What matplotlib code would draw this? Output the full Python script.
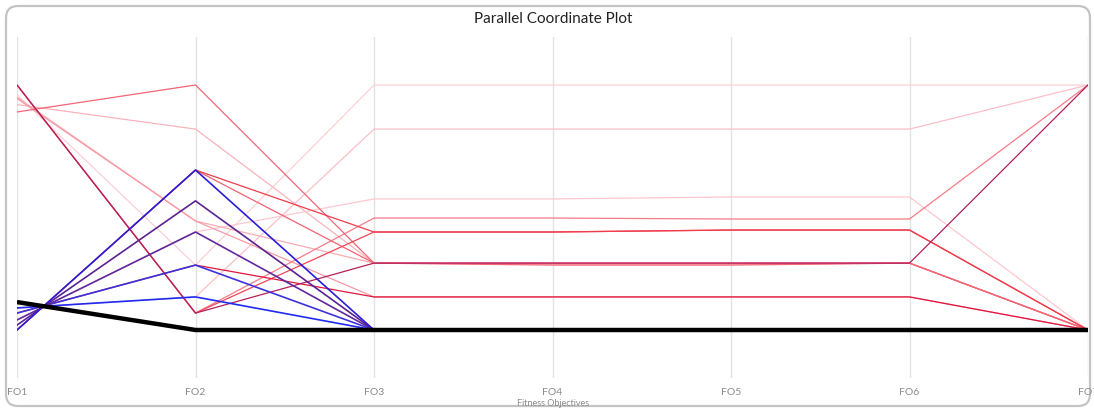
import matplotlib
matplotlib.use("Agg")
import matplotlib.pyplot as plt
from matplotlib.patches import FancyBboxPatch

# ---- data -------------------------------------------------------------
objectives = ["FO1", "FO2", "FO3", "FO4", "FO5", "FO6", "FO7"]

# light / red solutions (normalised fitness, 0..100)
s01 = [96.0, 26.5, 100.0, 100.0, 100.0, 100.0, 100.0]
s02 = [9.0, 13.5, 82.0, 82.0, 82.0, 82.0, 100.0]
s03 = [92.0, 82.0, 27.3, 26.8, 26.8, 27.3, 0.0]
s04 = [4.1, 40.0, 53.5, 53.5, 54.3, 54.3, 0.0]
s05 = [95.0, 44.5, 27.3, 27.3, 27.3, 27.3, 0.0]
s06 = [94.5, 44.5, 13.5, 13.5, 13.5, 13.5, 0.0]
s07 = [100.0, 6.9, 45.7, 45.7, 45.3, 45.3, 100.0]
s08 = [89.0, 100.0, 27.3, 26.5, 26.5, 27.3, 0.0]
s09 = [0.0, 65.3, 27.3, 27.3, 27.3, 27.3, 0.0]
s10 = [100.0, 6.9, 40.0, 40.0, 40.8, 40.8, 0.0]
s11 = [0.0, 65.3, 40.0, 40.0, 40.8, 40.8, 0.0]
s12 = [6.9, 26.5, 13.5, 13.5, 13.5, 13.5, 0.0]
s13 = [100.0, 6.9, 27.3, 27.3, 27.3, 27.3, 100.0]
# blue / purple solutions
s14 = [0.0, 65.3, 0.0, 0.0, 0.0, 0.0, 0.0]
s15 = [2.0, 52.7, 0.0, 0.0, 0.0, 0.0, 0.0]
s16 = [4.1, 40.0, 0.0, 0.0, 0.0, 0.0, 0.0]
s17 = [6.9, 26.5, 0.0, 0.0, 0.0, 0.0, 0.0]
s18 = [9.0, 13.5, 0.0, 0.0, 0.0, 0.0, 0.0]
# best (black) solution
s19 = [11.4, 0.0, 0.0, 0.0, 0.0, 0.0, 0.0]

red_series = [s01, s02, s03, s04, s05, s06, s07, s08, s09, s10, s11, s12, s13]
red_colors = ["#fdd0d5", "#fcc0c7", "#fbb3bb", "#fdc8ce", "#f9adb5", "#f89aa5",
              "#f57c89", "#f26676", "#f46272", "#f24656", "#f03c4c", "#e0163e",
              "#b3205c"]
blue_series = [s18, s17, s16, s15, s14]
blue_colors = ["#1f2bf0", "#3c32dc", "#60289a", "#5a2392", "#2a1cd8"]
best_series = s19

# ---- figure -----------------------------------------------------------
W, H = 1094, 411
fig = plt.figure(figsize=(W / 100, H / 100), dpi=100)

bg = fig.add_axes([0, 0, 1, 1])
bg.set_xlim(0, W)
bg.set_ylim(H, 0)
bg.axis("off")
bg.add_patch(FancyBboxPatch((6, 6), W - 10, H - 11,
                            boxstyle="round,pad=0,rounding_size=12",
                            facecolor="white", edgecolor="#c4c4c4", linewidth=1.6))

left_px, right_px, top_px, bot_px = 17, 1088, 37, 378
ax = fig.add_axes([left_px / W, 1 - bot_px / H,
                   (right_px - left_px) / W, (bot_px - top_px) / H])
ax.patch.set_alpha(0)

for vals, col in zip(red_series, red_colors):
    ax.plot(objectives, vals, color=col, lw=0.9, solid_capstyle="round")
for vals, col in zip(blue_series, blue_colors):
    ax.plot(objectives, vals, color=col, lw=1.2)
ax.plot(objectives, best_series, color="black", lw=3.2, solid_capstyle="butt")

ax.set_xlim(0, len(objectives) - 1)
# 100 -> 85px, 0 -> 330px
ax.set_ylim(-(bot_px - 330) / 2.45, 100 + (85 - top_px) / 2.45)
for s in ax.spines.values():
    s.set_visible(False)
ax.set_yticks([])
ax.grid(axis="x", color="#e2e2e2", lw=1)
ax.set_axisbelow(True)
ax.tick_params(axis="x", length=0, pad=7, labelsize=7.5, labelcolor="#8a8a8a")
for lbl in ax.get_xticklabels():
    lbl.set_family("Lato")

fig.text(553 / W, 1 - 19 / H, "Parallel Coordinate Plot", ha="center", va="center",
         fontsize=11, color="#222222", family="Lato")
fig.text(553 / W, 1 - 403.5 / H, "Fitness Objectives", ha="center", va="center",
         fontsize=6.5, color="#8a8a8a", family="Lato")

fig.savefig("out.png", dpi=100)
